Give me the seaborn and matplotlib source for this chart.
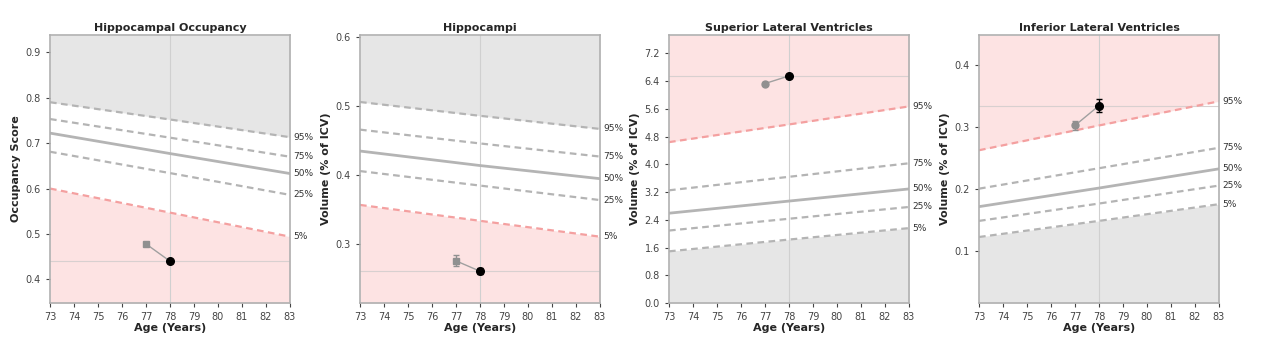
import matplotlib
matplotlib.use("Agg")
import matplotlib.pyplot as plt
import seaborn as sns
import pandas as pd
import numpy as np

sns.set_style("white")
plt.rcParams['font.family'] = ['DejaVu Sans']

titles = ["Hippocampal Occupancy", "Hippocampi", "Superior Lateral Ventricles", "Inferior Lateral Ventricles"]
ylabels = ["Occupancy Score", "Volume (% of ICV)", "Volume (% of ICV)", "Volume (% of ICV)"]
ylims = [(0.348, 0.938), (0.215, 0.603), (0.0, 7.73), (0.0155, 0.448)]
yticks = [[0.4, 0.5, 0.6, 0.7, 0.8, 0.9],
          [0.3, 0.4, 0.5, 0.6],
          [0.0, 0.8, 1.6, 2.4, 3.2, 4.0, 4.8, 5.6, 6.4, 7.2],
          [0.1, 0.2, 0.3, 0.4]]
ytick_fmt = ["{:.1f}", "{:.1f}", "{:.1f}", "{:.1f}"]

ages = [73, 78, 83]
centile_names = ["95%", "75%", "50%", "25%", "5%"]
# centile curves: [panel][centile] -> values at ages
centiles = [
    [[0.790, 0.752, 0.713], [0.753, 0.712, 0.670], [0.722, 0.677, 0.633], [0.681, 0.634, 0.586], [0.600, 0.547, 0.494]],
    [[0.506, 0.486, 0.467], [0.466, 0.446, 0.427], [0.435, 0.414, 0.395], [0.406, 0.385, 0.364], [0.357, 0.334, 0.311]],
    [[4.64, 5.15, 5.67], [3.25, 3.64, 4.03], [2.59, 2.94, 3.29], [2.09, 2.43, 2.77], [1.49, 1.83, 2.16]],
    [[0.262, 0.302, 0.341], [0.200, 0.233, 0.266], [0.171, 0.201, 0.232], [0.148, 0.176, 0.205], [0.122, 0.148, 0.175]],
]
# which side is abnormal (red): 'low' => below 5% red, above 95% gray
abnormal = ["low", "low", "high", "high"]

visit_ages = [77, 78]
visit_values = [[0.478, 0.440], [0.276, 0.261], [6.33, 6.55], [0.302, 0.334]]
visit_errors = [[0.004, 0.003], [0.008, 0.004], [0.05, 0.05], [0.008, 0.010]]
prev_markers = ["s", "s", "o", "o"]

W, H = 1266, 342
fig = plt.figure(figsize=(W / 100, H / 100), dpi=100)
lefts = [50, 360, 669, 979]

red_fill = "#fde3e3"
gray_fill = "#e6e6e6"
red_line = "#f4a0a0"
gray_line = "#b4b4b4"

for i in range(4):
    ax = fig.add_axes([lefts[i] / W, (H - 303) / H, 240 / W, 268 / H])
    y0, y1 = ylims[i]
    df_rows = []
    for name, vals in zip(centile_names, centiles[i]):
        for a, v in zip(ages, vals):
            df_rows.append({"age": a, "value": v, "centile": name})
    df = pd.DataFrame(df_rows)

    top = np.array(centiles[i][0])
    bot = np.array(centiles[i][4])
    if abnormal[i] == "low":
        ax.fill_between(ages, top, y1, color=gray_fill, lw=0, zorder=0)
        ax.fill_between(ages, y0, bot, color=red_fill, lw=0, zorder=0)
    else:
        ax.fill_between(ages, top, y1, color=red_fill, lw=0, zorder=0)
        ax.fill_between(ages, y0, bot, color=gray_fill, lw=0, zorder=0)

    for name in centile_names:
        sub = df[df["centile"] == name]
        if name == "50%":
            color, ls, lw = gray_line, "-", 2.0
        elif (name == "5%" and abnormal[i] == "low") or (name == "95%" and abnormal[i] == "high"):
            color, ls, lw = red_line, (0, (3, 2)), 1.6
        else:
            color, ls, lw = gray_line, (0, (3, 2)), 1.6
        sns.lineplot(data=sub, x="age", y="value", ax=ax, color=color, linestyle=ls, lw=lw, zorder=2)
        ax.text(83.15, sub["value"].iloc[-1], name, fontsize=6.5, color="#333333",
                va="center", ha="left", clip_on=False)

    # reference lines at current visit
    ax.axvline(visit_ages[-1], color="#d0d0d0", lw=0.8, zorder=1)
    ax.axhline(visit_values[i][-1], color="#d8d0d0", lw=0.8, zorder=1)

    sns.lineplot(x=visit_ages, y=visit_values[i], ax=ax, color="#a0a0a0", lw=1.0, zorder=3)
    ax.errorbar(visit_ages[:1], visit_values[i][:1], yerr=visit_errors[i][:1], fmt=prev_markers[i],
                color="#909090", ms=5, capsize=2, elinewidth=1, zorder=4)
    ax.errorbar(visit_ages[1:], visit_values[i][1:], yerr=visit_errors[i][1:], fmt="o",
                color="black", ms=5.5, capsize=2, elinewidth=1, zorder=5)

    ax.set_xlim(73, 83)
    ax.set_ylim(y0, y1)
    ax.set_xticks(range(73, 84))
    ax.set_yticks(yticks[i])
    ax.set_yticklabels([ytick_fmt[i].format(t) for t in yticks[i]])
    ax.tick_params(axis="both", labelsize=7, colors="#444444", length=3, direction="out",
                   bottom=True, left=True, width=0.8)
    for s in ax.spines.values():
        s.set_color("#b0b0b0")
        s.set_linewidth(1.2)
    ax.set_title(titles[i], fontsize=8, fontweight="bold", pad=3)
    ax.set_xlabel("Age (Years)", fontsize=8, fontweight="bold", labelpad=1)
    ax.set_ylabel(ylabels[i], fontsize=8, fontweight="bold", labelpad=3)
    leg = ax.get_legend()
    if leg is not None:
        leg.remove()

fig.savefig("out.png", dpi=100)
